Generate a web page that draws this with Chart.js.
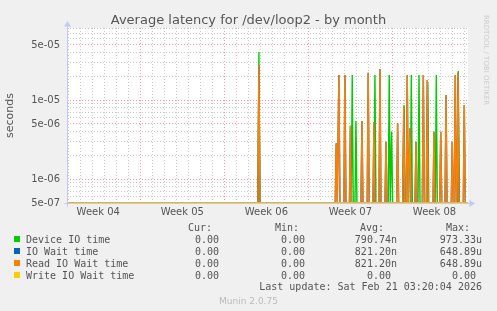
<!DOCTYPE html>
<html>
<head>
<meta charset="utf-8">
<script src="https://cdn.jsdelivr.net/npm/chart.js@4/dist/chart.umd.min.js"></script>
<style>
  html,body{margin:0;padding:0;background:#f0f0f0;}
  #wrap{position:relative;width:497px;height:311px;overflow:hidden;}
  #c{position:absolute;left:0;top:0;}
  .t{position:absolute;white-space:pre;color:#555;line-height:1;}
  .mono{font-family:"DejaVu Sans Mono",monospace;font-size:10px;}
  .r{text-align:right;}
  .sq{position:absolute;width:6px;height:6px;}
</style>
</head>
<body>
<div id="wrap">
  <canvas id="c" width="497" height="311"></canvas>
  <div class="t" id="title" style="left:0;width:497px;top:12px;text-align:center;font:13px 'DejaVu Sans';">Average latency for /dev/loop2 - by month</div>
  <div class="t" id="rrd" style="left:482px;top:15px;font:7px 'DejaVu Sans';color:#ccc;writing-mode:vertical-rl;">RRDTOOL / TOBI OETIKER</div>
  <div id="legend"></div>
  <div class="t mono r" style="right:15px;top:282px;">Last update: Sat Feb 21 03:20:04 2026</div>
  <div class="t" style="left:0;width:497px;top:296px;text-align:center;font:9px 'DejaVu Sans';color:#bbb;">Munin 2.0.75</div>
</div>
<script>
// ---- data (x in days since Monday of Week 04, y in seconds) ----
const weekLabels = ["Week 04","Week 05","Week 06","Week 07","Week 08"];
const weekLabelDays = [3.5, 10.5, 17.5, 24.5, 31.5];
const yTickValues = [5e-7, 1e-6, 5e-6, 1e-5, 5e-5];
const yTickLabels = ["5e-07","1e-06","5e-06","1e-05","5e-05"];

const deviceDays = [16.88, 24.65, 24.96, 26.54, 27.73, 27.93, 28.96, 29.57, 30.21, 30.94, 31.65, 33.48];
const deviceVals = [4.07e-5, 2.08e-5, 5.46e-6, 2.08e-5, 2.08e-5, 4.0e-6, 8.7e-6, 2.08e-5, 2.08e-5, 1.7e-5, 2.08e-5, 2.34e-5];
const readDays = [16.88, 23.32, 23.54, 24.04, 24.5, 25.46, 25.98, 26.46, 26.96, 27.46, 28.43, 28.94, 29.23, 29.46, 29.96, 30.57, 30.9, 31.46, 32.02, 32.46, 32.98, 33.23, 33.46, 33.98];
const readVals = [2.79e-5, 2.85e-6, 2.08e-5, 2.08e-5, 4.76e-6, 5.46e-6, 2.23e-5, 5.3e-6, 2.48e-5, 2.98e-6, 5.1e-6, 8.06e-6, 2.08e-5, 4.4e-6, 2.98e-6, 2.08e-5, 1.8e-5, 4.0e-6, 4.0e-6, 1.16e-5, 2.98e-6, 2.08e-5, 2.23e-5, 8.7e-6];
const ioWaitDays = readDays;   // identical to read wait
const ioWaitVals = readVals;
const writeDays = [];
const writeVals = [];

const X_MIN = 0.9, X_MAX = 34.29;
const Y_MIN = 5e-7, Y_MAX = 8.2e-5;
const STEP = 1/12; // 2h samples

const SERIES = [
  {name:"Device IO time",     color:"#00cc00", days:deviceDays, vals:deviceVals, cur:"0.00", min:"0.00", avg:"790.74n", max:"973.33u"},
  {name:"IO Wait time",       color:"#0066b3", days:ioWaitDays, vals:ioWaitVals, cur:"0.00", min:"0.00", avg:"821.20n", max:"648.89u"},
  {name:"Read IO Wait time",  color:"#ff8000", days:readDays,   vals:readVals,   cur:"0.00", min:"0.00", avg:"821.20n", max:"648.89u"},
  {name:"Write IO Wait time", color:"#ffcc00", days:writeDays,  vals:writeVals,  cur:"0.00", min:"0.00", avg:"0.00 ",   max:"0.00 "}
];

// zero can't sit on a log axis: rrdtool pins it to the bottom, so use the axis floor
function buildPoints(days, vals){
  const z=Y_MIN;
  const pts=[{x:X_MIN,y:z}];
  days.forEach((d,i)=>{ pts.push({x:d-STEP,y:z},{x:d,y:vals[i]},{x:d+STEP,y:z}); });
  pts.push({x:X_MAX,y:z});
  return pts;
}

// ---- legend (html text) ----
function renderLegend(){
  const L=document.getElementById("legend");
  const cols=[{key:"cur",hdr:"Cur:",h:212,v:219},{key:"min",hdr:"Min:",h:299,v:305},{key:"avg",hdr:"Avg:",h:384,v:397},{key:"max",hdr:"Max:",h:470,v:482}];
  let html="";
  for(const c of cols) html+=`<div class="t mono r" style="right:${497-c.h}px;top:223px;">${c.hdr}</div>`;
  SERIES.forEach((s,i)=>{
    const top=235+i*12;
    html+=`<div class="sq" style="left:14px;top:${top+1}px;background:${s.color}"></div>`;
    html+=`<div class="t mono" style="left:26px;top:${top}px;">${s.name}</div>`;
    for(const c of cols) html+=`<div class="t mono r" style="right:${497-c.v}px;top:${top}px;">${s[c.key]}</div>`;
  });
  L.innerHTML=html;
}

// ---- chart ----
const plotBg = {
  id:"plotBg",
  beforeDraw(chart){
    const {ctx,chartArea:a}=chart;
    ctx.save(); ctx.fillStyle="#fff"; ctx.fillRect(a.left,a.top,a.right-a.left,a.bottom-a.top); ctx.restore();
  },
  afterDraw(chart){
    const {ctx,chartArea:a}=chart;
    const ax="#c4c8f4";
    const x0=Math.round(a.left)+0.5, y0=Math.round(a.bottom)+0.5;
    ctx.save();
    ctx.strokeStyle=ax; ctx.fillStyle=ax; ctx.lineWidth=1;
    ctx.beginPath(); ctx.moveTo(x0,y0+3); ctx.lineTo(x0,a.top-2); ctx.stroke();
    ctx.beginPath(); ctx.moveTo(x0-3,y0); ctx.lineTo(a.right+2,y0); ctx.stroke();
    ctx.beginPath(); ctx.moveTo(x0-3.5,a.top-1.5); ctx.lineTo(x0+3.5,a.top-1.5); ctx.lineTo(x0,a.top-7); ctx.closePath(); ctx.fill();
    ctx.beginPath(); ctx.moveTo(a.right+1.5,y0-3.5); ctx.lineTo(a.right+1.5,y0+3.5); ctx.lineTo(a.right+7,y0); ctx.closePath(); ctx.fill();
    ctx.restore();
  }
};

function isMajorY(v){ return yTickValues.some(t=>Math.abs(t-v)/t<1e-6); }

function init(){
  renderLegend();
  Chart.defaults.font.family="DejaVu Sans";
  Chart.defaults.font.size=10;
  Chart.defaults.color="#555";
  // first dataset is drawn last: write on top, device underneath
  const datasets=SERIES.slice().reverse().map(s=>({
    label:s.name, data:buildPoints(s.days,s.vals), borderColor:s.color,
    borderWidth:1.4, pointRadius:0, tension:0, fill:false
  }));
  new Chart(document.getElementById("c").getContext("2d"),{
    type:"line",
    data:{datasets},
    plugins:[plotBg],
    options:{
      responsive:false, animation:false, events:[],
      layout:{padding:{left:0,top:28,right:29,bottom:88}},
      plugins:{legend:{display:false},tooltip:{enabled:false}},
      scales:{
        x:{
          type:"linear", min:X_MIN, max:X_MAX,
          afterBuildTicks(sc){
            const t=[];
            for(let d=1; d<=34; d++) t.push({value:d});
            weekLabelDays.forEach(d=>t.push({value:d}));
            t.sort((a,b)=>a.value-b.value);
            sc.ticks=t;
          },
          afterFit(sc){ sc.height=20; },
          ticks:{autoSkip:false,maxRotation:0,padding:3,
            callback:(v)=>{ const i=weekLabelDays.indexOf(v); return i>=0?weekLabels[i]:""; }},
          grid:{drawTicks:false,
            color:(c)=>{ const v=c.tick.value; if(v%1!==0) return "rgba(0,0,0,0)"; return v%7===0?"#eea0a0":"#c8c8c8"; }},
          border:{display:false,dash:[1,2]}
        },
        y:{
          type:"logarithmic", min:Y_MIN, max:Y_MAX,
          afterBuildTicks(sc){
            const t=[];
            for(let e=-7;e<=-5;e++) for(let m=1;m<=9;m++){
              const v=Number((m*Math.pow(10,e)).toPrecision(3));
              if(v>=Y_MIN*0.999 && v<=Y_MAX*1.001) t.push({value:v});
            }
            sc.ticks=t;
          },
          afterFit(sc){ sc.width=67; },
          ticks:{autoSkip:false,padding:7,
            callback:(v)=>{ const i=yTickValues.findIndex(t=>Math.abs(t-v)/t<1e-6); return i>=0?yTickLabels[i]:""; }},
          grid:{drawTicks:false,
            color:(c)=>isMajorY(c.tick.value)?"#eea0a0":"#c8c8c8"},
          border:{display:false,dash:[1,2]},
          title:{display:true,text:"seconds",font:{size:11},color:"#555",padding:{top:4,bottom:4}}
        }
      }
    }
  });
}
document.addEventListener("DOMContentLoaded", init);
</script>
</body>
</html>
